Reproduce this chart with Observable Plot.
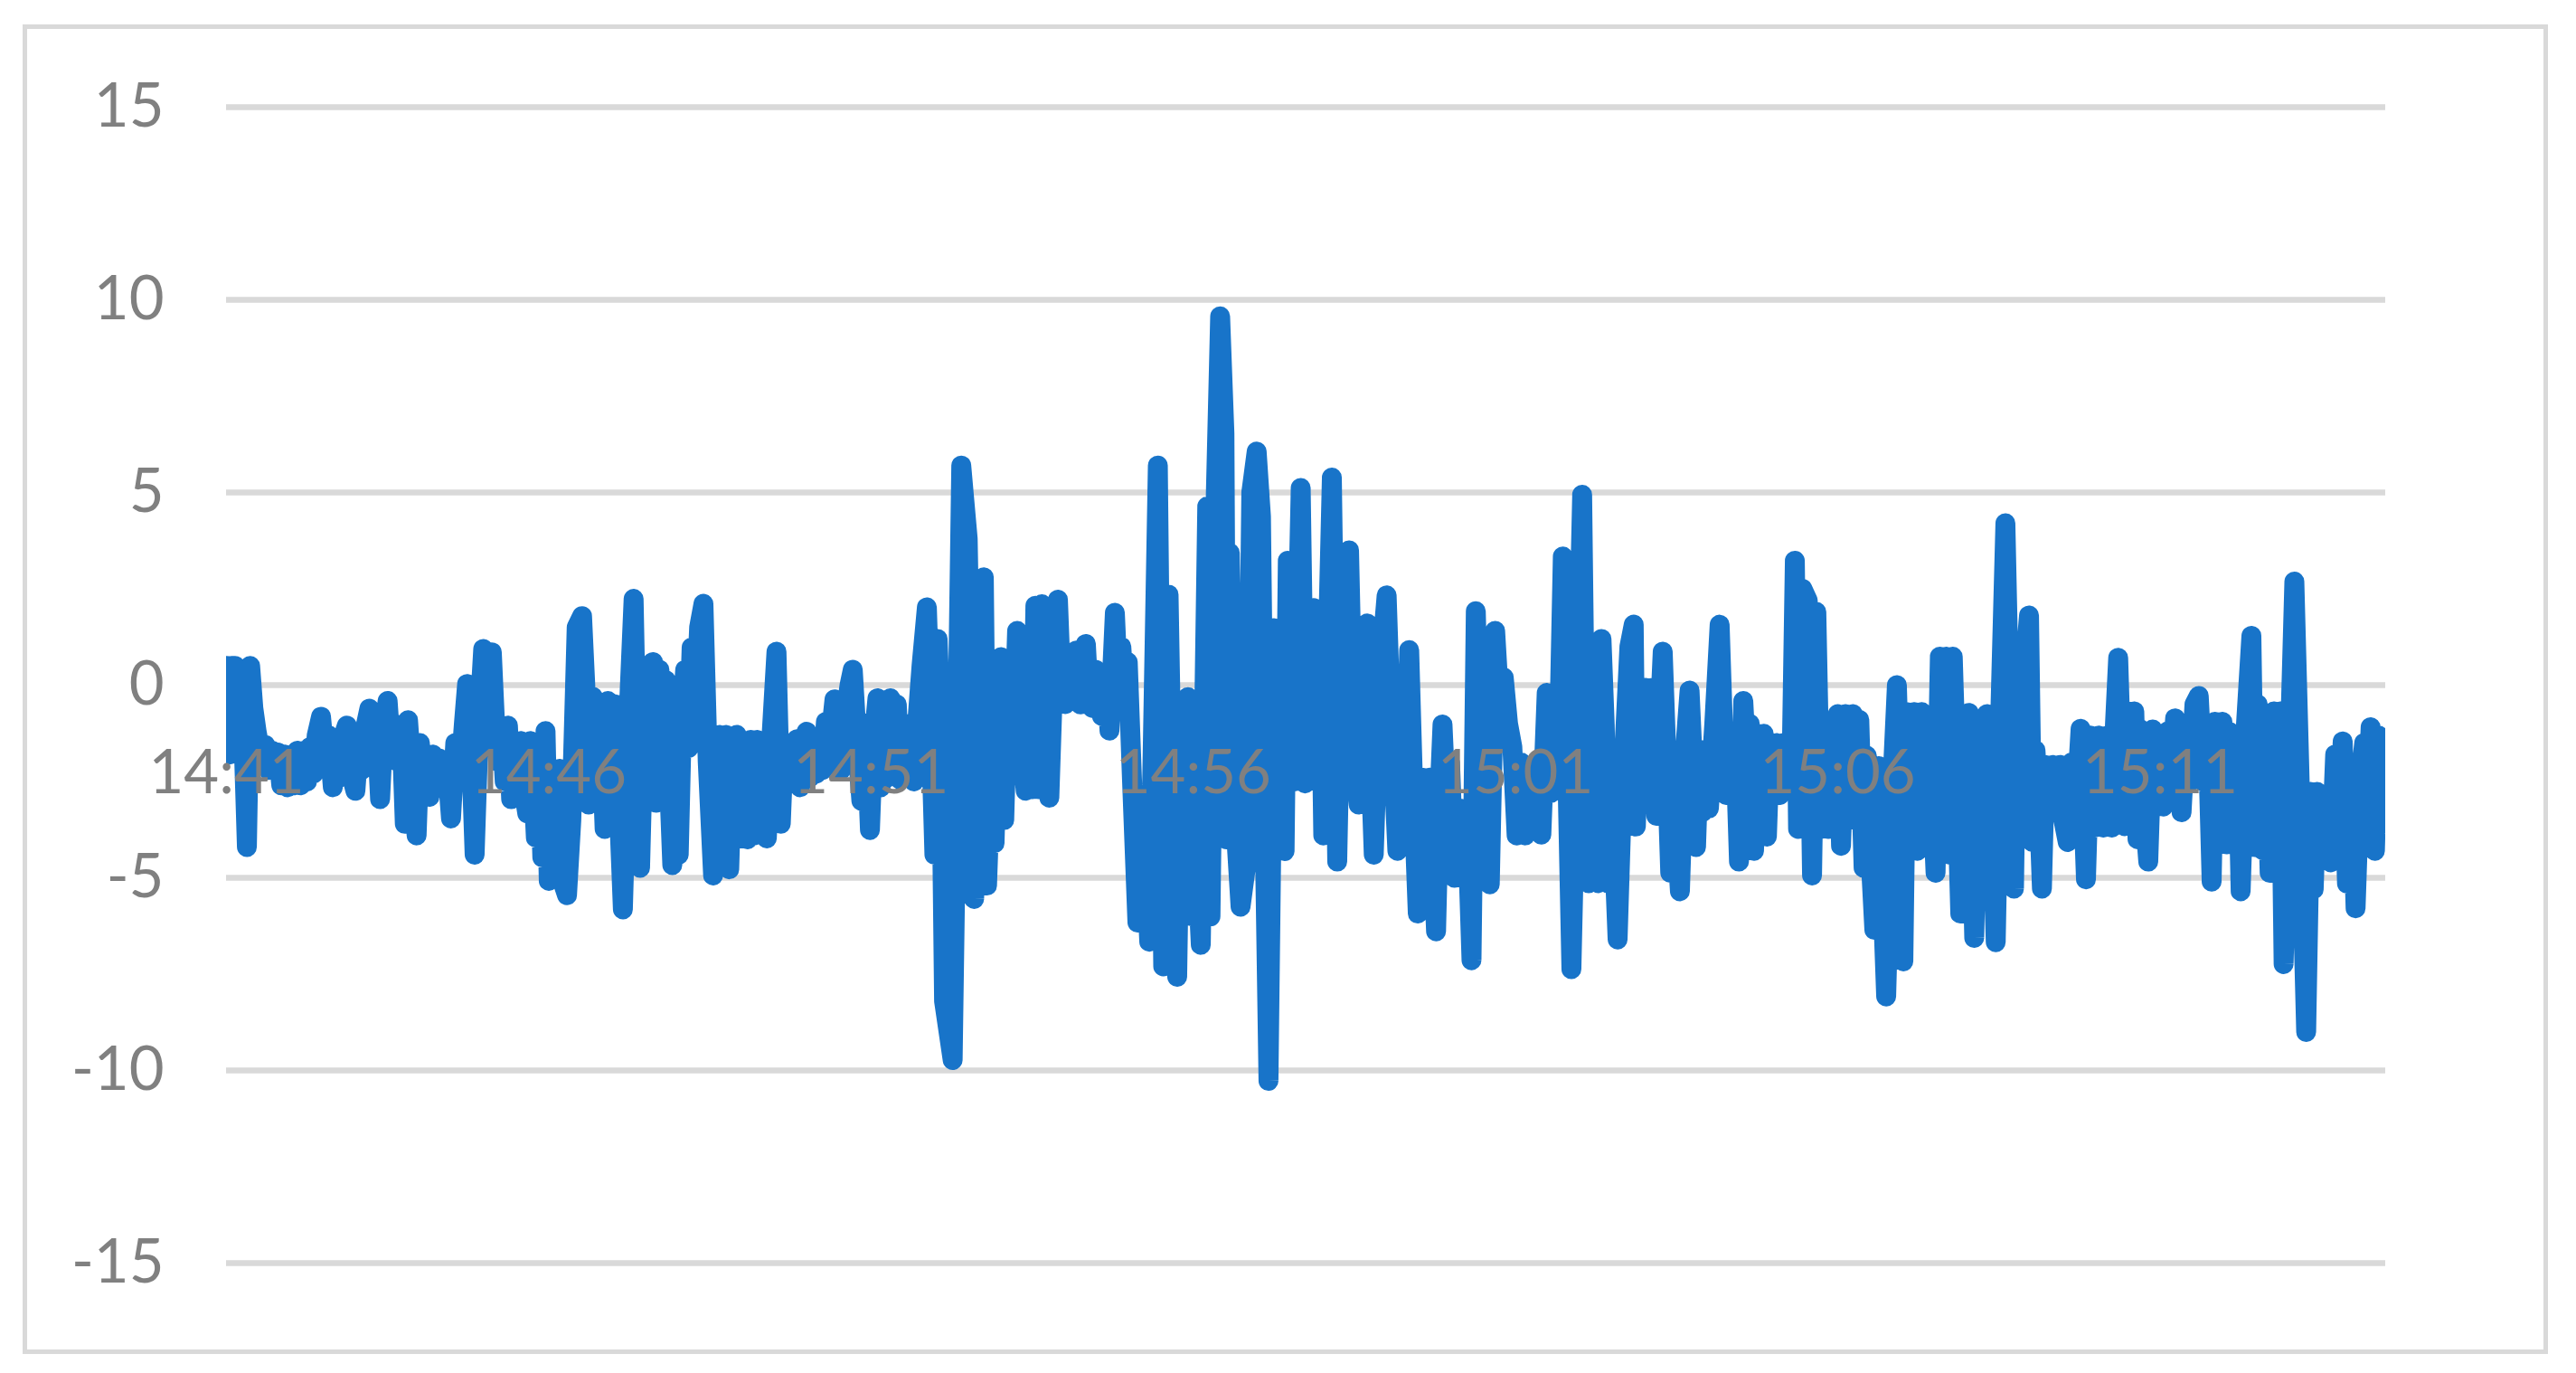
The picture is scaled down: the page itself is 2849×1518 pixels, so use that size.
<!DOCTYPE html>
<html><head><meta charset="utf-8">
<script src="https://cdn.jsdelivr.net/npm/d3@7"></script>
<script src="https://cdn.jsdelivr.net/npm/@observablehq/plot@0.6"></script>
<style>
html,body{margin:0;padding:0;background:#fff;overflow:hidden;}
#wrap{position:relative;width:2849px;height:1518px;}
#frame{position:absolute;left:25px;top:27px;width:2793px;height:1470px;border:5px solid #d9d9d9;box-sizing:border-box;pointer-events:none;}
#chart svg{display:block;}
</style></head><body>
<div id="wrap"><div id="chart"></div><div id="frame"></div></div>
<script>
// time window of the series
const startTime = "14:41:00";
const endTime = "15:14:30";
// seconds after startTime (one line per stretch of the record)
const secs = [
0,3,5,8,12,16,19,22,25,28,
30,33,36,39,42,45,48,51,54,57,60,63,66,69,72,75,78,81,84,88,
92,95,99,102,105,108,112,116,120,123,126,130,133,137,140,143,146,150,153,156,160,163,166,169,173,177,180,183,186,189,192,195,198,202,205,209,213,217,221,224,228,231,235,239,243,247,
250,253,256,259,262,265,268,271,274,277,280,283,286,288,291,294,297,300,303,306,310,314,317,321,326,331,334,337,341,344,348,352,355,358,362,365,369,374,
379,382,385,388,391,394,397,400,403,406,409,412,415,418,421,424,427,430,433,436,440,444,448,453,456,459,462,465,468,471,475,479,482,485,488,491,494,497,500,503,
507,512,516,519,522,525,528,531,534,537,540,543,546,549,552,555,558,561,564,566,569,572,576,580,583,587,591,595,599,602,606,609,612,615,618,621,624,627,631,634,637,640,643,647,652,656,659,662,665,668,676,684,
690,696,701,705,708,712,715,718,721,724,728,732,736,740,744,747,750,753,
756,759,763,766,770,774,777,781,784,787,791,795,800,803,806,809,812,815,819,822,827,830,833,836,839,843,
848,853,859,867,872,877,881,885,889,892,895,898,901,904,907,910,913,916,921,925,929,931,934,938,944,950,954,959,963,966,970,975,979,982,985,988,991,994,1000,
1004,1008,1012,1015,1018,1021,1029,1034,1038,1041,1045,1049,1054,1058,1062,1065,1068,1072,1076,1080,1084,1087,1090,1094,1098,1101,1105,1109,1113,1117,1120,1126,1129,1132,1136,1139,1143,1148,1152,1155,1159,1163,1167,1171,1176,1181,1185,1189,1193,1197,1201,1205,1209,1213,1217,1221,1224,1229,1233,1236,1240,1244,1248,1252,
1262,1265,1268,1271,1274,1277,1280,1283,1286,1289,1292,1295,1299,1306,1310,1312,1315,1318,1321,1324,1327,1331,1334,1337,1340,1344,1347,1350,1353,1357,1362,1365,1368,1371,1374,1377,1380,1385,1390,1393,1396,1399,1402,1405,1408,1412,1415,1418,1422,1425,1428,1431,1434,1437,1440,1443,1446,1449,1453,1457,1460,1463,1467,1472,1476,1480,1484,1487,1491,1495,1500,
1503,1507,1510,1514,1517,1520,1524,1527,1531,1534,1538,1541,1545,1550,1555,1558,1561,1564,1568,1571,1574,1578,1581,1585,1591,1595,1598,1601,1604,1607,1610,1614,1618,1622,1627,1631,1635,1639,1643,1647,1651,1656,1660,1664,1667,1671,1674,1678,1681,1684,1687,1690,1693,1697,1700,1703,1707,1710,1714,1718,1722,1726,1731,1735,1739,1743,1747,1751,1755,1758,
1761,1764,1767,1770,1773,1776,1779,1782,1786,1789,1793,1797,1800,1803,1807,1810,1814,1817,1820,1824,1828,1832,1836,1840,1844,1848,1851,1855,1858,1862,1865,1869,1872,1875,1880,1885,1888,1891,1895,1898,1902,1906,1909,1912,1915,1925,1929,1936,1940,1943,1946,1949,1952,1956,1959,1963,1967,1970,1974,1978,1982,1986,1990,1993,1996,2000,2003,2006,2010
];
const vals = [
0.5,-1.8,0.5,0.5,0.15,-1.5,-4.2,0.5,-0.6,-1.2,
-1.5,-2.1,-1.55,-2.2,-1.7,-2.15,-1.75,-2.6,-1.8,-2.65,-1.85,-2.6,-1.7,-2.6,-1.7,-2.5,-1.6,-2.3,-1.3,-0.82,
-2.0,-1.3,-2.65,-1.5,-2.4,-1.4,-1.05,-2.3,-2.74,-1.6,-2.2,-1.0,-0.61,-1.9,-1.3,-2.96,-1.2,-0.41,-1.6,-1.0,-2.0,-1.2,-3.6,-0.91,-2.5,-3.9,-1.5,-2.6,-1.8,-2.9,-1.8,-2.7,-1.9,-2.6,-2.0,-3.46,-1.5,-2.5,-1.0,0.03,-2.0,-4.4,-1.0,0.94,0.5,0.85,
-1.0,-2.0,-1.05,-2.5,-1.05,-2.96,-1.45,-2.6,-1.45,-2.8,-3.33,-1.45,-2.8,-3.96,-1.6,-4.47,-1.19,-5.08,-2.17,-4.0,-2.17,-5.2,-5.45,-3.5,1.5,1.79,0.0,-3.1,-0.3,-2.0,-0.6,-3.73,-0.41,-2.5,-0.5,-3.0,-5.82,-1.0,
2.24,-2.0,-4.74,-1.5,-3.0,-0.5,0.6,-3.05,0.4,-1.5,0.13,-2.5,-4.67,-2.0,-4.4,-0.88,0.4,-1.64,0.98,-1.0,1.5,2.11,-2.0,-4.94,-3.0,-1.29,-3.5,-1.29,-4.78,-2.0,-1.29,-3.98,-1.6,-4.0,-1.42,-3.9,-1.42,-3.8,-1.6,-3.98,
-1.5,0.87,-3.6,-1.5,-2.3,-1.6,-2.25,-1.4,-2.65,-1.5,-1.21,-2.4,-1.5,-2.3,-1.56,-2.2,-0.95,-2.0,-0.9,-0.37,-1.8,-2.2,-0.8,0.0,0.4,-1.5,-3.0,-1.0,-3.76,-1.5,-0.34,-2.65,-0.6,-2.4,-0.34,-2.3,-0.5,-2.45,-1.05,-2.3,-1.0,-2.5,-1.0,0.5,2.02,-1.5,-4.4,1.2,-1.0,-8.2,-9.73,5.7,
3.8,-5.55,-1.0,2.8,-5.2,-2.0,-4.1,-1.0,0.73,-3.5,0.5,-2.0,1.41,-1.5,-2.74,-1.0,-2.7,2.06,
-2.7,2.1,-2.0,-2.92,0.5,2.22,0.0,-0.49,0.74,-0.3,0.9,-0.5,1.07,-0.5,-0.59,0.4,0.3,-0.8,0.2,-1.18,1.88,0.0,1.0,-0.3,0.6,-2.5,
-6.16,-3.0,-6.66,5.7,-7.3,2.35,-4.0,-7.57,-0.4,-5.5,-0.31,-6.0,-0.5,-5.0,-6.74,-1.0,4.64,-6.0,5.0,9.57,6.53,-4.0,3.43,-3.0,-5.75,-4.5,5.0,6.06,4.38,-3.0,-10.27,1.48,-1.0,1.2,-4.31,3.23,-1.0,-2.5,5.12,
-2.55,1.5,2.0,-1.0,1.8,-3.9,5.39,-4.58,1.0,-2.0,3.5,-1.5,-3.1,0.5,1.6,-2.0,-4.4,-1.0,1.0,2.33,-1.0,-2.5,-4.3,-1.0,-2.5,0.91,-3.0,-5.93,-2.4,-4.5,-2.4,-6.39,-3.0,-1.02,-3.5,-2.0,-5.0,-3.2,-5.0,-3.7,-7.14,1.92,-2.5,-1.0,-5.17,1.41,-0.5,0.2,-1.0,-1.6,-3.9,-2.0,-3.9,-2.1,-3.5,-2.0,-3.88,-0.2,-2.8,-1.0,-2.0,3.34,-2.0,-7.37,
4.94,-2.0,-5.14,1.07,-4.0,-5.14,1.2,-1.0,-5.14,-2.9,-4.5,-6.6,-3.0,1.0,1.57,-3.67,-1.0,-2.5,-0.07,-2.0,-0.07,-3.39,-1.0,0.87,-1.5,-4.87,-1.96,-4.0,-5.35,-2.0,-0.14,-2.0,-4.2,-1.67,-3.3,-1.67,-3.2,-1.0,1.57,-1.0,-2.85,-1.5,-2.85,-1.96,-4.58,-0.41,-2.0,-1.0,-4.3,-1.26,-3.93,-1.26,-3.93,-1.5,-2.85,-1.5,-2.85,-1.5,-2.5,-2.0,3.23,-3.73,2.5,2.2,-4.94,1.9,-3.73,-1.5,-3.73,-1.5,-0.75,
-4.17,-0.75,-3.0,-0.75,-3.5,-0.9,-4.74,-1.83,-4.74,-6.35,-2.1,-5.0,-8.08,-3.0,0.0,-3.0,-7.17,-0.7,-3.67,-0.7,-4.3,-0.7,-3.0,-1.0,-4.87,0.74,-2.0,0.74,-4.4,0.74,-2.0,-5.93,-1.5,-0.72,-6.56,-1.56,-3.0,-0.75,-3.0,-6.67,-1.0,4.2,-1.0,-5.28,0.47,-2.0,0.5,1.81,-4.07,-1.69,-3.0,-5.28,-2.07,-3.0,-2.07,-3.0,-2.07,-3.5,-4.07,-2.0,-3.0,-1.13,-5.04,-1.31,-3.7,-1.31,-3.7,-1.31,-3.7,-1.0,
0.71,-2.0,-3.66,-0.68,-3.0,-0.68,-4.0,-1.15,-3.5,-4.58,-1.15,-3.15,-1.69,-3.15,-1.2,-2.5,-0.86,-2.0,-3.3,-1.22,-2.5,-0.5,-0.28,-2.5,-1.0,-5.1,-0.95,-3.0,-0.95,-4.13,-1.22,-3.0,-1.5,-5.35,-1.0,1.28,-4.2,-0.5,-4.27,-1.0,-4.87,-0.68,-3.0,-0.68,-7.24,2.69,-1.5,-9.0,-2.77,-5.3,-2.77,-4.0,-2.9,-4.0,-4.6,-1.8,-3.0,-1.46,-5.15,-2.0,-5.79,-2.5,-1.5,-3.0,-1.09,-4.3,-1.3,-3.6,-3.0
];
const xTickLabels = ["14:41","14:46","14:51","14:56","15:01","15:06","15:11"];
const yTicks = [-15,-10,-5,0,5,10,15];

function at(hms){const p=hms.split(":").map(Number);return new Date(Date.UTC(2020,0,1,p[0],p[1],p[2]||0));}
const t0 = at(startTime), t1 = at(endTime);
const n = Math.min(secs.length, vals.length);
const data = secs.slice(0, n).map((s,i)=>({t:new Date(t0.getTime()+s*1000), v:vals[i]}));
const labels = xTickLabels.map(l=>({t:at(l), label:l}));

const chart = Plot.plot({
  width: 2849, height: 1518,
  marginLeft: 250, marginRight: 211, marginTop: 118, marginBottom: 122,
  style: {fontFamily: "Lato, 'Open Sans', sans-serif", background: "transparent"},
  x: {type: "utc", domain: [t0, t1], axis: null},
  y: {domain: [-15, 15]},
  marks: [
    Plot.gridY(yTicks, {stroke: "#d9d9d9", strokeOpacity: 1, strokeWidth: 6.5}),
    Plot.axisY(yTicks, {tickSize: 0, tickPadding: 69, fontSize: 67, color: "#808080", tickFormat: d => String(d), label: null}),
    Plot.line(data, {x: "t", y: "v", stroke: "#1874c9", strokeWidth: 22, clip: true}),
    Plot.text(labels, {x: "t", y: () => 0, text: "label", dy: 98, fontSize: 67, fill: "#808080"})
  ]
});
document.getElementById("chart").appendChild(chart);
</script>
</body></html>
